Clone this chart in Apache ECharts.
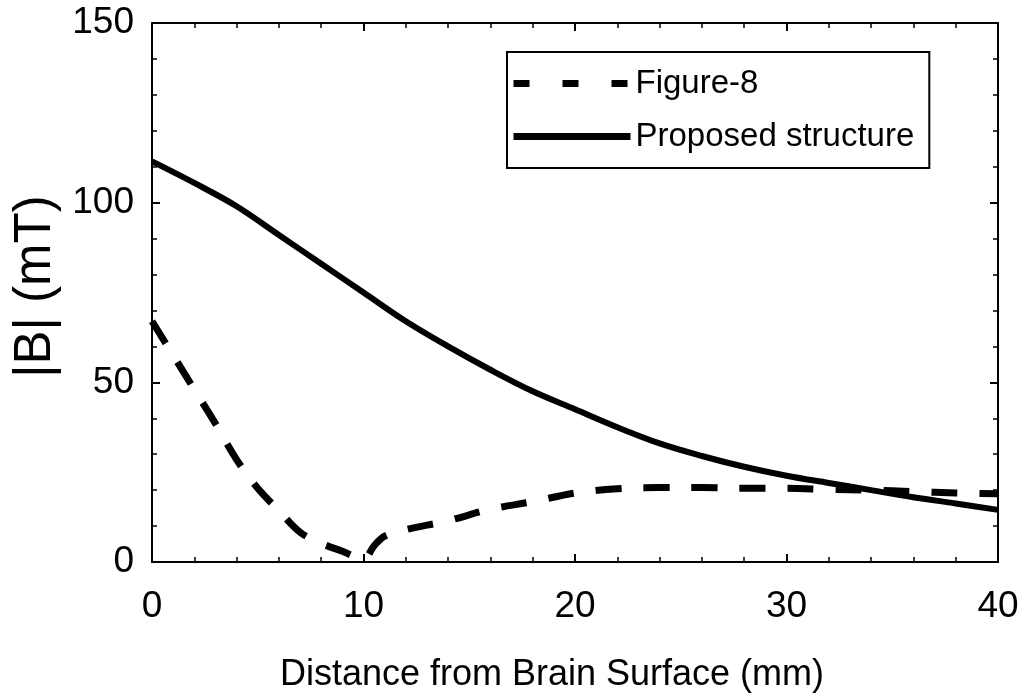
<!DOCTYPE html>
<html>
<head>
<meta charset="utf-8">
<script src="https://cdn.jsdelivr.net/npm/echarts@6/dist/echarts.min.js"></script>
<style>
  html, body { margin: 0; padding: 0; background: #fff; }
  #main { width: 1029px; height: 698px; }
</style>
</head>
<body>
<div id="main"></div>
<script>
// distance from brain surface (mm) and |B| (mT)
const fig8X = [0, 1, 2, 3, 4, 5, 6, 7, 8, 9, 10, 10.5, 11, 12, 14, 16, 18, 20, 22, 24, 26, 28, 30, 32, 34, 36, 38, 40]
const fig8Y = [67, 57.5, 48, 38.5, 28.5, 20.5, 14.3, 8.3, 5.2, 3, 0.8, 4.5, 7.2, 9, 11.5, 14.7, 16.8, 19.2, 20.4, 20.7, 20.7, 20.5, 20.5, 20.2, 20, 19.6, 19.2, 19]
const propX = [0, 2, 4, 6, 8, 10, 12, 14, 16, 18, 20, 22, 24, 26, 28, 30, 32, 34, 36, 38, 40]
const propY = [111.5, 105.5, 99, 91, 83, 75, 67, 60, 53.5, 47.5, 42.5, 37.5, 33, 29.5, 26.5, 24, 22, 20, 18, 16.3, 14.5]
const seriesNames = ['Figure-8', 'Proposed structure']

const pairs = (xs, ys) => xs.map((x, i) => [x, ys[i]])
const font = '"Liberation Sans", Arial, sans-serif'

// shared look for the box axes
const tick = { show: true, inside: true, length: 8, lineStyle: { color: '#000', width: 2 } }
const minor = { show: true, splitNumber: 5, length: 5, lineStyle: { color: '#000', width: 1.5 } }
const axisLine = { show: true, onZero: false, lineStyle: { color: '#000', width: 2 } }

const option = {
  animation: false,
  backgroundColor: '#fff',
  textStyle: { fontFamily: font, color: '#000' },
  grid: { left: 152, right: 31, top: 23, bottom: 135 },
  legend: {
    orient: 'vertical',
    left: 507,
    top: 52,
    padding: [15, 15, 15, 3],
    itemWidth: 117,
    itemHeight: 30,
    itemGap: 20,
    borderColor: '#000',
    borderWidth: 2,
    itemStyle: { opacity: 0 },
    textStyle: { fontSize: 33, color: '#000', fontFamily: font },
    data: [
      { name: seriesNames[0], lineStyle: { type: [16, 33], width: 7 } },
      { name: seriesNames[1], lineStyle: { width: 7 } }
    ]
  },
  xAxis: [
    {
      type: 'value',
      min: 0,
      max: 40,
      interval: 10,
      name: 'Distance from Brain Surface (mm)',
      nameLocation: 'middle',
      nameGap: 95,
      nameTextStyle: { fontSize: 36, color: '#000', fontFamily: font, padding: [0, 46, 0, 0] },
      axisLine: axisLine,
      axisTick: tick,
      minorTick: minor,
      splitLine: { show: false },
      axisLabel: { fontSize: 37, color: '#000', margin: 26, fontFamily: font }
    },
    {
      type: 'value',
      position: 'top',
      min: 0,
      max: 40,
      interval: 10,
      axisLine: axisLine,
      axisTick: tick,
      minorTick: minor,
      splitLine: { show: false },
      axisLabel: { show: false }
    }
  ],
  yAxis: [
    {
      type: 'value',
      min: 0,
      max: 150,
      interval: 50,
      name: '|B| (mT)',
      nameLocation: 'middle',
      nameGap: 90,
      nameTextStyle: { fontSize: 51, color: '#000', fontFamily: font, padding: [0, 0, 0, 12] },
      axisLine: axisLine,
      axisTick: tick,
      minorTick: minor,
      splitLine: { show: false },
      axisLabel: { fontSize: 37, color: '#000', margin: 18, fontFamily: font }
    },
    {
      type: 'value',
      position: 'right',
      min: 0,
      max: 150,
      interval: 50,
      axisLine: axisLine,
      axisTick: tick,
      minorTick: minor,
      splitLine: { show: false },
      axisLabel: { show: false }
    }
  ],
  series: [
    {
      name: seriesNames[0],
      type: 'line',
      symbol: 'none',
      smooth: 0.35,
      z: 3,
      lineStyle: { color: '#000', width: 7, type: [26, 22] },
      itemStyle: { color: '#000' },
      data: pairs(fig8X, fig8Y)
    },
    {
      name: seriesNames[1],
      type: 'line',
      symbol: 'none',
      smooth: 0.35,
      z: 2,
      lineStyle: { color: '#000', width: 6 },
      itemStyle: { color: '#000' },
      data: pairs(propX, propY)
    }
  ]
}

const chart = echarts.init(document.getElementById('main'))
chart.setOption(option)
</script>
</body>
</html>
